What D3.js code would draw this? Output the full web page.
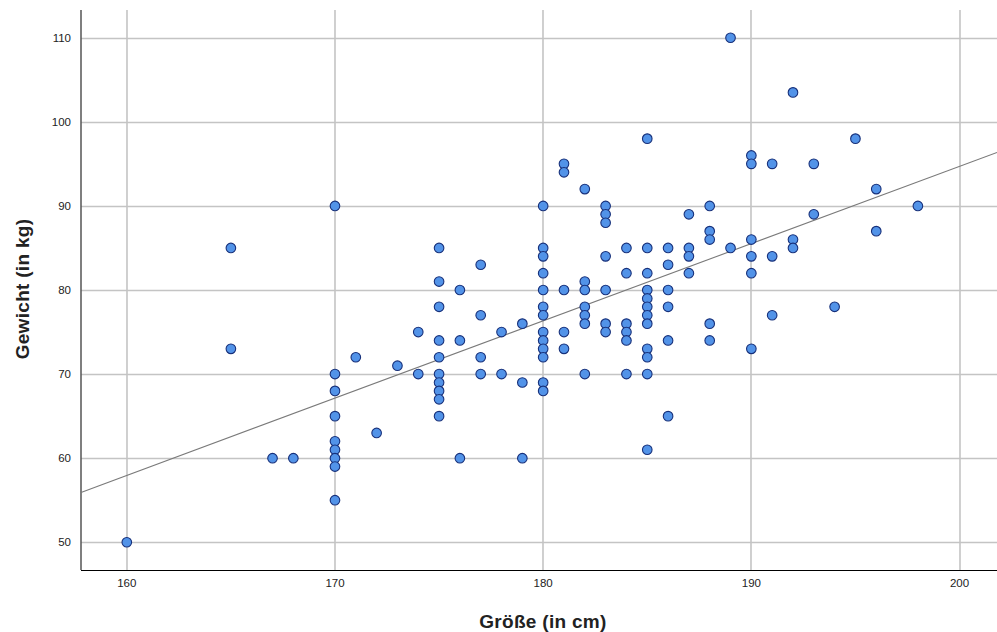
<!DOCTYPE html>
<html>
<head>
<meta charset="utf-8">
<script src="https://cdnjs.cloudflare.com/ajax/libs/d3/7.8.5/d3.min.js"></script>
<style>
body { margin: 0; background: #fff; }
svg { display: block; font-family: "Liberation Sans", Arial, sans-serif; }
.grid line { stroke: #c4c4c4; }
.ticklabel { font-size: 11.5px; fill: #222; }
.title { font-size: 19px; font-weight: bold; fill: #222; letter-spacing: 0.3px; }
circle.pt { fill: #5293e8; stroke: #17307a; stroke-width: 1.1; }
line.fit { stroke: #7a7a7a; stroke-width: 1.1; }
</style>
</head>
<body>
<div id="chart"></div>
<script>
// heights (cm) and weights (kg)
var heights = [160,165,165,167,168,
  170,170,170,170,170,170,170,170,170,
  171,172,173,174,174,
  175,175,175,175,175,175,175,175,175,175,
  176,176,176, 177,177,177,177, 178,178, 179,179,179,
  180,180,180,180,180,180,180,180,180,180,180,180,180,
  181,181,181,181,181,
  182,182,182,182,182,182,182,
  183,183,183,183,183,183,183,
  184,184,184,184,184,184,
  185,185,185,185,185,185,185,185,185,185,185,185,
  186,186,186,186,186,186,
  187,187,187,187,
  188,188,188,188,188,
  189,189,
  190,190,190,190,190,190,
  191,191,191, 192,192,192, 193,193, 194, 195, 196,196, 198];
var weights = [50,85,73,60,60,
  90,70,68,65,62,61,60,59,55,
  72,63,71,75,70,
  85,81,78,74,72,70,69,68,67,65,
  80,74,60, 83,77,72,70, 75,70, 76,69,60,
  90,85,84,82,80,78,77,75,74,73,72,69,68,
  95,94,80,75,73,
  92,81,80,78,77,76,70,
  90,89,88,84,80,76,75,
  85,82,76,75,74,70,
  98,85,82,80,79,78,77,76,73,72,70,61,
  85,83,80,78,74,65,
  89,85,84,82,
  90,87,86,76,74,
  110,85,
  96,95,86,84,82,73,
  95,84,77, 103.5,86,85, 95,89, 78, 98, 92,87, 90];

var xTicks = [160, 170, 180, 190, 200];
var yTicks = [50, 60, 70, 80, 90, 100, 110];
var xDomain = [157.8, 201.8];
var yDomain = [46.7, 113.3];
// fitted line as drawn: weight = fitIntercept + fitSlope * (height - 160)
var fitIntercept = 57.95;
var fitSlope = 0.919;

var W = 997, H = 632;
var m = {left: 81, right: 0, top: 10, bottom: 62};

var svg = d3.select("#chart").append("svg").attr("width", W).attr("height", H);

var x = d3.scaleLinear().domain(xDomain).range([m.left, W - m.right]);
var y = d3.scaleLinear().domain(yDomain).range([H - m.bottom, m.top]);

var grid = svg.append("g").attr("class", "grid");
grid.selectAll("line.h").data(yTicks).enter().append("line")
  .attr("class", "h")
  .attr("x1", m.left).attr("x2", W - m.right)
  .attr("y1", function(d) { return Math.round(y(d)) + 0.5; })
  .attr("y2", function(d) { return Math.round(y(d)) + 0.5; })
  .attr("stroke-width", 1.3);
grid.selectAll("line.v").data(xTicks).enter().append("line")
  .attr("class", "v")
  .attr("y1", m.top).attr("y2", H - m.bottom)
  .attr("x1", function(d) { return Math.round(x(d)); })
  .attr("x2", function(d) { return Math.round(x(d)); })
  .attr("stroke-width", 1.6);

// axis lines
svg.append("line")
  .attr("x1", m.left).attr("x2", m.left)
  .attr("y1", m.top).attr("y2", H - m.bottom)
  .attr("stroke", "#555").attr("stroke-width", 1.5);
svg.append("line")
  .attr("x1", m.left).attr("x2", W - m.right)
  .attr("y1", H - m.bottom + 0.5).attr("y2", H - m.bottom + 0.5)
  .attr("stroke", "#000").attr("stroke-width", 1);

// tick labels
svg.selectAll("text.yl").data(yTicks).enter().append("text")
  .attr("class", "ticklabel yl")
  .attr("x", m.left - 10)
  .attr("y", function(d) { return y(d); })
  .attr("dy", "0.35em")
  .attr("text-anchor", "end")
  .text(function(d) { return d; });
svg.selectAll("text.xl").data(xTicks).enter().append("text")
  .attr("class", "ticklabel xl")
  .attr("x", function(d) { return x(d); })
  .attr("y", H - m.bottom + 17)
  .attr("text-anchor", "middle")
  .text(function(d) { return d; });

// titles
svg.append("text").attr("class", "title")
  .attr("transform", "translate(29,289) rotate(-90)")
  .attr("text-anchor", "middle")
  .text("Gewicht (in kg)");
svg.append("text").attr("class", "title")
  .attr("x", 543).attr("y", 628)
  .attr("text-anchor", "middle")
  .text("Größe (in cm)");

// fit line
svg.append("line").attr("class", "fit")
  .attr("x1", x(xDomain[0])).attr("y1", y(fitIntercept + fitSlope * (xDomain[0] - 160)))
  .attr("x2", x(xDomain[1])).attr("y2", y(fitIntercept + fitSlope * (xDomain[1] - 160)));

// points
svg.append("g").selectAll("circle").data(heights).enter().append("circle")
  .attr("class", "pt")
  .attr("cx", function(d) { return x(d); })
  .attr("cy", function(d, i) { return y(weights[i]); })
  .attr("r", 4.8);
</script>
</body>
</html>
